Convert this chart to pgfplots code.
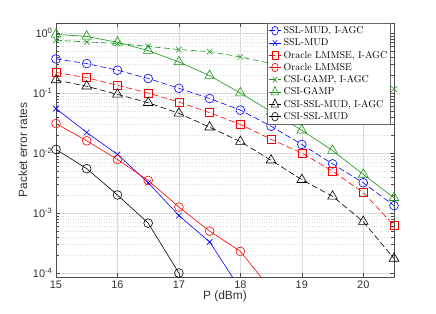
\documentclass[border=0pt]{standalone}
\usepackage{fontspec}
\usepackage{pgfplots}
\pgfplotsset{compat=1.18}
\newfontfamily\helv{Liberation Sans}
\definecolor{mgreen}{RGB}{25,150,25}
\begin{document}
\begin{tikzpicture}
\begin{axis}[
  at={(0,0)}, anchor=south west,
  scale only axis, width=338bp, height=254bp,
  ymode=log, xmin=15, xmax=20.5, ymin=8.6e-5, ymax=1.47,
  xtick={15,16,17,18,19,20},
  ytick={1e-4,1e-3,1e-2,1e-1,1},
  yticklabels={10\textsuperscript{-4},10\textsuperscript{-3},10\textsuperscript{-2},10\textsuperscript{-1},10\textsuperscript{0}},
  /pgf/number format/assume math mode=true,
  tick label style={font=\helv\fontsize{11}{12}\selectfont, black!80},
  xlabel={P (dBm)}, ylabel={Packet error rates},
  label style={font=\helv\fontsize{12}{13}\selectfont, black!80},
  xlabel style={yshift=4bp},
  ylabel style={yshift=-1bp},
  grid=both,
  major grid style={black!15, line width=0.4pt},
  minor grid style={black!12, dotted, line width=0.4pt},
  axis line style={black!70},
  tick style={black!70},
  tick align=inside,
  minor tick num=0,
  clip=true,
  legend style={at={(0.99,1)}, anchor=north east, font=\fontsize{10}{11}\selectfont,
    draw=black!60, fill=white, inner sep=1.2pt, row sep=-0.3pt, cells={anchor=west}},
  legend image post style={xscale=0.75},
  every axis plot/.append style={line width=0.6pt, mark size=4.4pt},
  dsh/.style={dash pattern=on 6bp off 3bp},
]
% SSL-MUD, I-AGC
\addplot[blue, dsh, mark=o, mark options={solid}] coordinates {
(15,0.37)(15.5,0.31)(16,0.24)(16.5,0.175)(17,0.12)(17.5,0.081)(18,0.052)(18.5,0.028)(19,0.0139)(19.5,0.0066)(20,0.0032)(20.5,0.00133)};
\addlegendentry{SSL-MUD, I-AGC}
% SSL-MUD
\addplot[blue, mark=x, mark size=4pt] coordinates {
(15,0.055)(15.5,0.022)(16,0.0095)(16.5,0.0032)(17,0.00091)(17.5,0.00033)(18,0.000054)};
\addlegendentry{SSL-MUD}
% Oracle LMMSE, I-AGC
\addplot[red, dsh, mark=square, mark size=4pt, mark options={solid}] coordinates {
(15,0.22)(15.5,0.18)(16,0.135)(16.5,0.1)(17,0.071)(17.5,0.047)(18,0.030)(18.5,0.017)(19,0.01)(19.5,0.005)(20,0.0022)(20.5,0.00062)};
\addlegendentry{Oracle LMMSE, I-AGC}
% Oracle LMMSE
\addplot[red, mark=o] coordinates {
(15,0.031)(15.5,0.016)(16,0.0078)(16.5,0.0035)(17,0.00126)(17.5,0.0005)(18,0.00023)(18.5,0.000053)};
\addlegendentry{Oracle LMMSE}
% CSI-GAMP, I-AGC
\addplot[mgreen, dsh, mark=x, mark size=4pt, mark options={solid}] coordinates {
(15,0.76)(15.5,0.71)(16,0.67)(16.5,0.6)(17,0.53)(17.5,0.49)(18,0.40)(18.5,0.31)(19,0.25)(19.5,0.195)(20,0.153)(20.5,0.117)};
\addlegendentry{CSI-GAMP, I-AGC}
% CSI-GAMP
\addplot[mgreen, mark=triangle, mark size=5.6pt] coordinates {
(15,0.95)(15.5,0.88)(16,0.70)(16.5,0.51)(17,0.33)(17.5,0.195)(18,0.10)(18.5,0.049)(19,0.024)(19.5,0.011)(20,0.0044)(20.5,0.0018)};
\addlegendentry{CSI-GAMP}
% CSI-SSL-MUD, I-AGC
\addplot[black, dsh, mark=triangle, mark size=5.6pt, mark options={solid}] coordinates {
(15,0.165)(15.5,0.13)(16,0.095)(16.5,0.069)(17,0.046)(17.5,0.027)(18,0.0155)(18.5,0.0076)(19,0.0036)(19.5,0.0019)(20,0.00072)(20.5,0.000175)};
\addlegendentry{CSI-SSL-MUD, I-AGC}
% CSI-SSL-MUD
\addplot[black, mark=o] coordinates {
(15,0.0115)(15.5,0.0055)(16,0.002)(16.5,0.00068)(17,0.0001)};
\addlegendentry{CSI-SSL-MUD}
\end{axis}
\pgfresetboundingbox
\useasboundingbox (-56bp,-37bp) rectangle (380bp,277bp);
\end{tikzpicture}
\end{document}
